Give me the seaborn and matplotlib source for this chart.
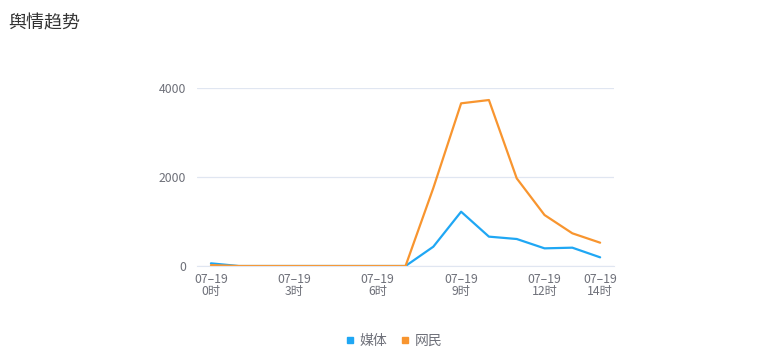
import seaborn as sns
import pandas as pd
import matplotlib.pyplot as plt
from matplotlib.lines import Line2D

# hourly counts on 07-19
hours = list(range(15))
media = [60, 0, 0, 0, 0, 0, 0, 0, 434, 1220, 660, 607, 397, 412, 195]
netizens = [20, 0, 0, 0, 0, 0, 0, 0, 1753, 3656, 3730, 1970, 1146, 735, 524]
series_names = ["媒体", "网民"]
series_colors = ["#1fa7f4", "#f8952f"]
tick_hours = [0, 3, 6, 9, 12, 14]

sns.set_style("white")
plt.rcParams['font.family'] = ['Noto Sans CJK SC', 'DejaVu Sans']

df = pd.DataFrame({
    "hour": hours * 2,
    "count": media + netizens,
    "series": [series_names[0]] * len(hours) + [series_names[1]] * len(hours),
})

fig = plt.figure(figsize=(7.84, 3.64), dpi=100)
ax = fig.add_axes([0.2513, 0.2692, 0.5319, 0.489])

sns.lineplot(data=df, x="hour", y="count", hue="series",
             palette=series_colors, linewidth=1.6, legend=False, ax=ax)

ax.set_xlim(-0.5, 14.5)
ax.set_ylim(0, 4000)
ax.set_yticks([0, 2000, 4000])
ax.set_xticks(tick_hours)
ax.set_xticklabels(["07–19\n%d时" % h for h in tick_hours], linespacing=0.95)
ax.tick_params(axis="both", length=0, labelsize=8.8, colors="#6e7079")
ax.tick_params(axis="y", pad=8)
ax.tick_params(axis="x", pad=5)
ax.set_xlabel("")
ax.set_ylabel("")

# grid lines, only horizontal
ax.grid(axis="y", color="#e0e6f1", linewidth=0.9)
ax.grid(axis="x", visible=False)
for s in ["top", "right", "left"]:
    ax.spines[s].set_visible(False)
ax.spines["bottom"].set_color("#e0e6f1")
ax.set_axisbelow(True)

fig.text(0.010, 0.937, "舆情趋势", fontsize=13, color="#333333", va="center")

handles = [Line2D([], [], marker="s", linestyle="", markersize=5,
                  color=c) for c in series_colors]
fig.legend(handles, series_names, loc="center", bbox_to_anchor=(0.503, 0.063),
           ncol=2, frameon=False, handlelength=0.5, handletextpad=0.45,
           columnspacing=1.0, prop={"size": 10}, labelcolor="#6e7079")

fig.savefig("out.png", dpi=100)
